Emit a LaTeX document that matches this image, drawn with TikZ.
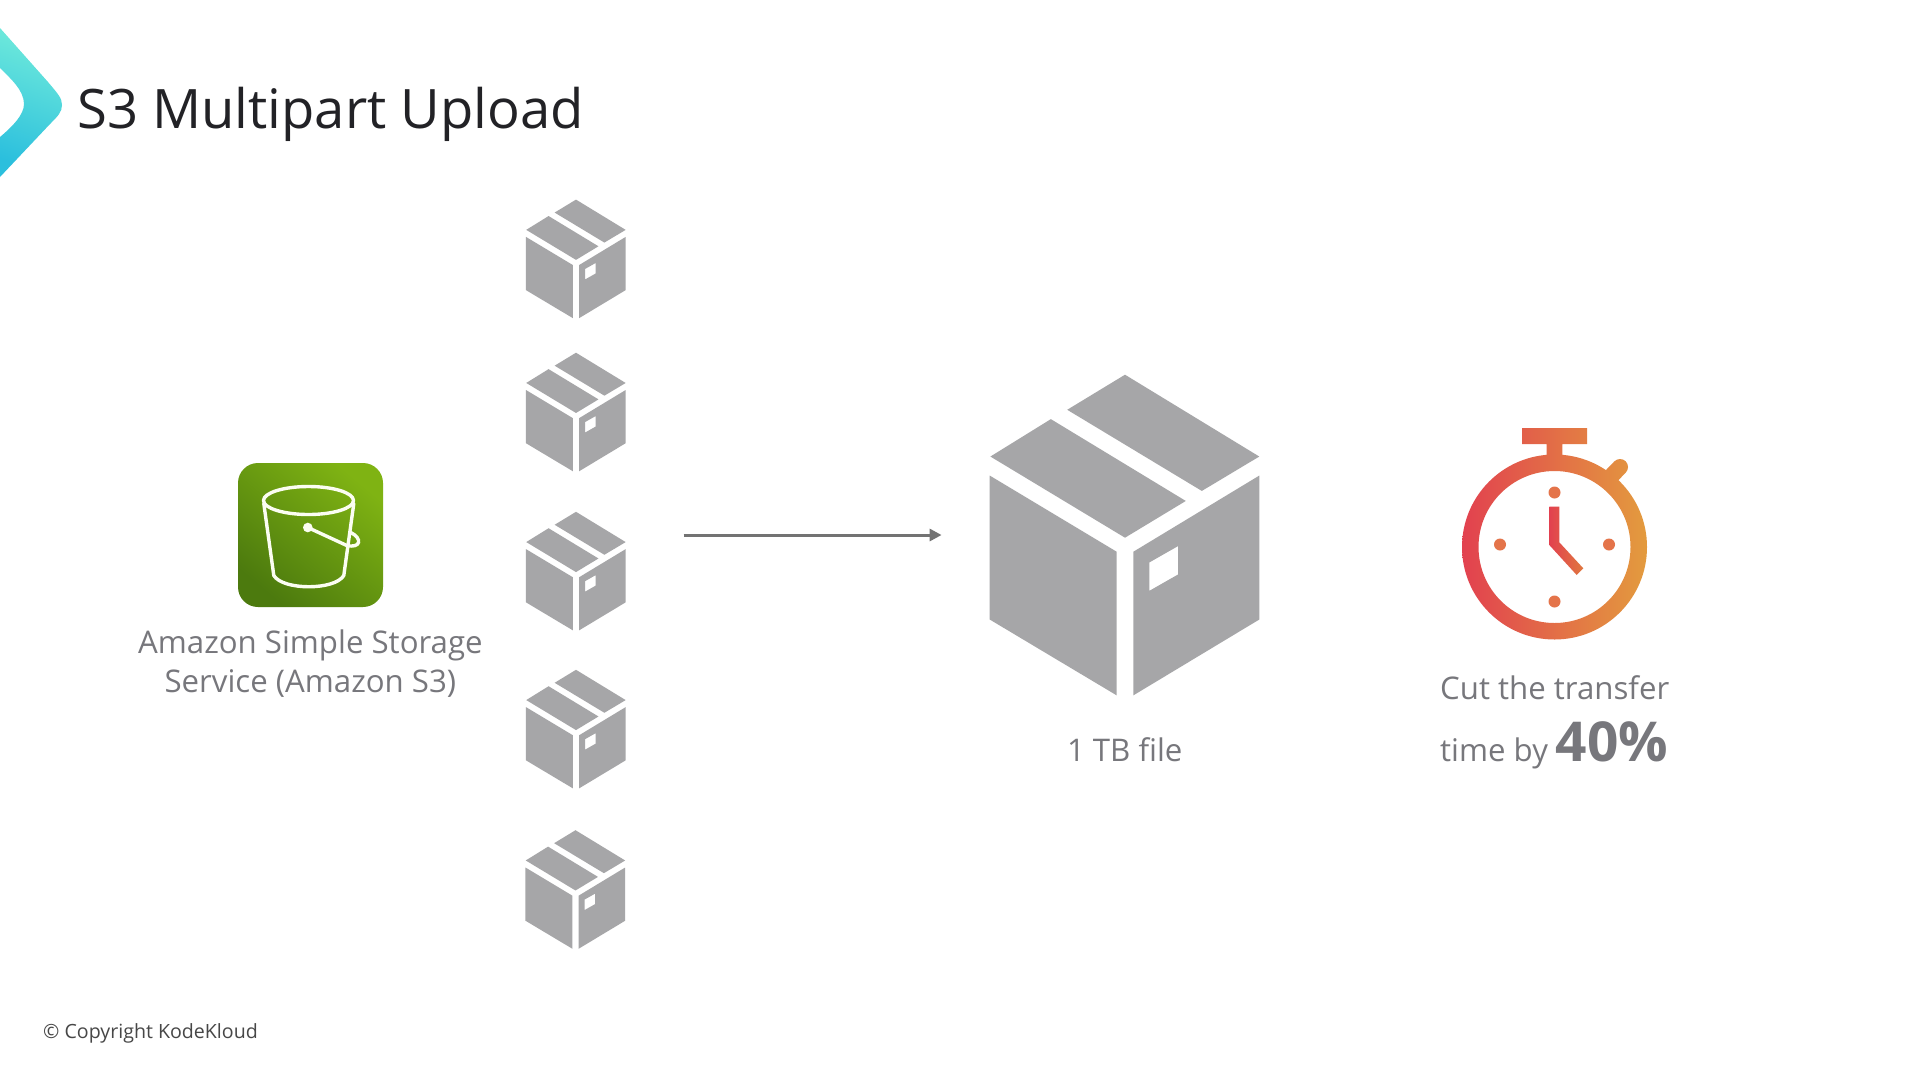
\documentclass[tikz,border=0pt]{standalone}
\usepackage{fontspec}
\setmainfont{Open Sans}
\usetikzlibrary{arrows.meta}
\definecolor{boxgrey}{HTML}{A6A6A8}
\definecolor{labelgrey}{HTML}{77777C}
\definecolor{titleink}{HTML}{222226}
\definecolor{chevA}{HTML}{6FEADB}
\definecolor{chevB}{HTML}{2BBFDD}
\definecolor{greenA}{HTML}{4C7A0E}
\definecolor{greenB}{HTML}{7FB313}
\definecolor{pailink}{HTML}{FBFDF2}
\definecolor{watchA}{HTML}{E2414F}
\definecolor{watchB}{HTML}{E39B3E}
\definecolor{watchC}{HTML}{E0783F}
\definecolor{dotink}{HTML}{E4744A}
\tikzset{
  lbl/.style={text=labelgrey,inner sep=0pt,anchor=base,font=\fontsize{31.2}{31.2}\selectfont},
  parcel/.pic={
    \fill[boxgrey] (0,0) -- (402,245) -- (230,348) -- (-173,105) -- cycle;
    \fill[boxgrey] (-222,133) -- (182,378) -- (0,488) -- (-403,245) -- cycle;
    \fill[boxgrey] (-405,302) -- (-25,530) -- (-25,960) -- (-405,733) -- cycle;
    \fill[boxgrey,even odd rule] (25,530) -- (402,302) -- (402,733) -- (25,960) -- cycle
      (73,562) -- (159,513) -- (159,598) -- (73,647) -- cycle;
  },
  handlepath/.style={draw=pailink,line width=3.4pt,line cap=round,line join=round}
}
\begin{document}
\begin{tikzpicture}[x=1pt,y=-1pt]
\useasboundingbox (0,0) rectangle (1920,1080);
\fill[white] (0,0) rectangle (1920,1080);

% logo chevron
\shade[top color=chevA,bottom color=chevB,shading angle=-20]
 (0,28) -- (48,82) .. controls (58,94) and (62,98) .. (62,105) .. controls (62,112) and (58,116) .. (50,124) -- (0,177)
 -- (0,137) .. controls (12,127) and (24,115) .. (24,104) .. controls (24,90) and (10,78) .. (0,68) -- cycle;

\node[anchor=base west,inner sep=0pt,text=titleink,font=\fontsize{54.4}{54.4}\selectfont] (title) at (77,128.5) {S3 Multipart Upload};

% parcels
\pic[scale=0.1235] at (576,199.6) {parcel};
\pic[scale=0.1235] at (576,352.7) {parcel};
\pic[scale=0.1235] at (576,511.8) {parcel};
\pic[scale=0.1235] at (576,669.8) {parcel};
\pic[scale=0.1235] at (575.5,830.2) {parcel};
\pic[scale=0.334] at (1125,374.7) {parcel};

% bucket icon
\shade[rounded corners=20pt,left color=greenA,right color=greenB,shading angle=140]
  (238,463) rectangle (383,607);
\begin{scope}[shift={(0.8,0.5)}]
\draw[handlepath] (307.7,500) ellipse [x radius=45,y radius=14];
\draw[handlepath] (263,503) -- (273,575) .. controls (282,590) and (334,590) .. (343,575) -- (353,503);
\fill[pailink] (307,527) circle [radius=4.8];
\draw[handlepath] (307,527) -- (346,545) .. controls (360,548) and (362,538) .. (350,532);
\end{scope}

\node[lbl] (s3a) at (310.4,653.5) {Amazon Simple Storage};
\node[lbl] (s3b) at (310.4,692) {Service (Amazon S3)};

% arrow
\coordinate (arrowstart) at (683.5,535);
\coordinate (arrowend) at (941.6,535);
\draw[line width=3pt,color=black!55,-{Triangle[length=12pt,width=12pt]}] (arrowstart) -- (arrowend);

\node[lbl] (file) at (1124.7,761) {1 TB file};

% stopwatch
\begin{scope}[shift={(1554.5,547)},y=1pt]
\shade[left color=watchA,right color=watchB]
  (92.5,0) arc [start angle=0,end angle=360,radius=92.5] -- cycle
  (76,0) arc [start angle=0,end angle=-360,radius=76] -- cycle
  (-7.8,82) -- (7.8,82) -- (7.8,103) -- (32.5,103) -- (32.5,119) -- (-32.5,119) -- (-32.5,103) -- (-7.8,103) -- cycle
  (57.66,60.34) -- (71.16,74.34) arc [start angle=-45,end angle=135,radius=8] -- (46.34,71.66) -- cycle;
\foreach \dx/\dy in {0/54.5,-54.5/2.5,54.5/2.5,0/-54.5}
  \fill[dotink] (\dx,\dy) circle [radius=6];
\shade[left color=watchA,right color=watchC]
  (-5.2,40.3) -- (-5.2,2) -- (22.2,-28) -- (28.8,-21.3) -- (4.8,4.7) -- (4.8,40.3) -- cycle;
\end{scope}

\node[lbl,anchor=base west] (cut) at (1440,699.3) {Cut the transfer};
\node[lbl,anchor=base west] (timeby) at (1440,761.5) {time by};
\node[anchor=base west,inner sep=0pt,text=labelgrey,font=\fontsize{55}{55}\selectfont\bfseries] (pct) at (1555.5,761.5) {40\%};

\node[anchor=base west,inner sep=0pt,text=black!72,font=\fontsize{19.6}{19.6}\selectfont] (copy) at (43,1038.5) {© Copyright KodeKloud};
\end{tikzpicture}
\end{document}
